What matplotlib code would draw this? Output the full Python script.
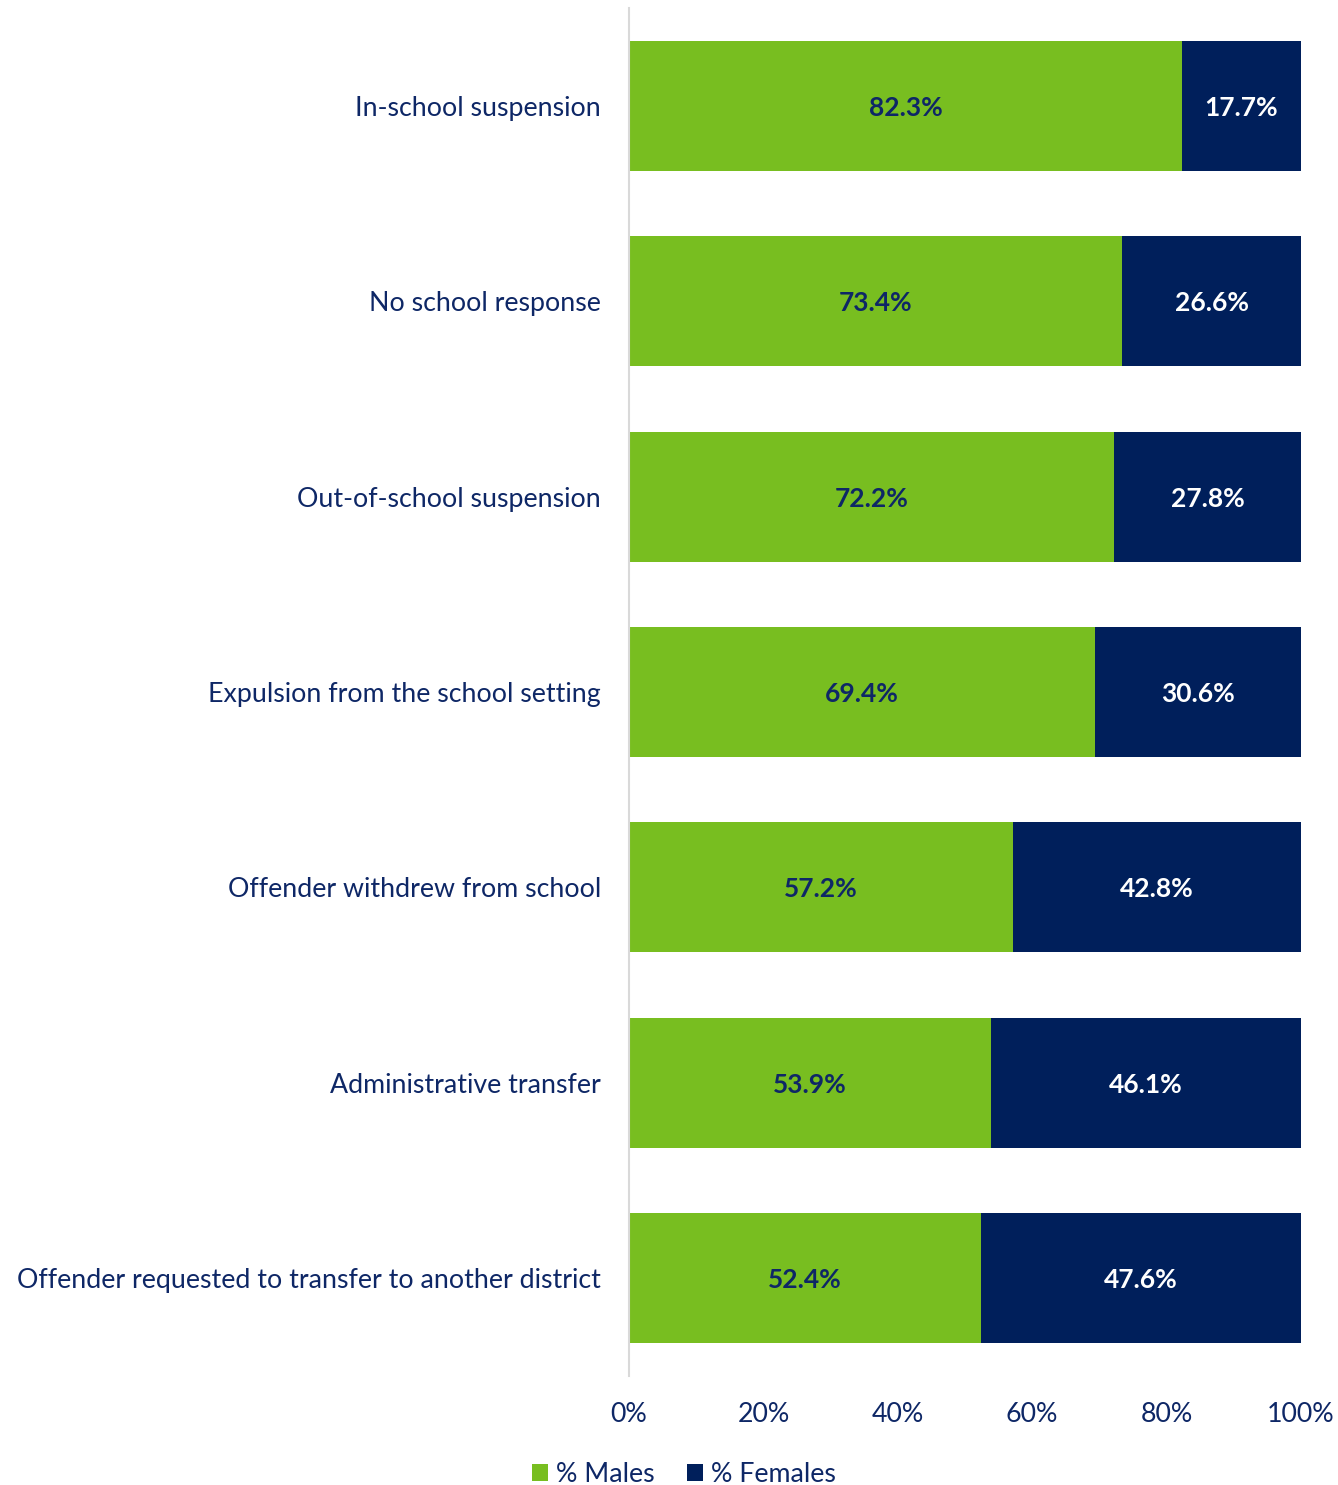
import matplotlib.pyplot as plt
import numpy as np

plt.rcParams['font.family'] = ['Lato', 'DejaVu Sans']

categories = [
    "In-school suspension",
    "No school response",
    "Out-of-school suspension",
    "Expulsion from the school setting",
    "Offender withdrew from school",
    "Administrative transfer",
    "Offender requested to transfer to another district",
]
males = [82.3, 73.4, 72.2, 69.4, 57.2, 53.9, 52.4]
females = [17.7, 26.6, 27.8, 30.6, 42.8, 46.1, 47.6]
xticks = [0, 20, 40, 60, 80, 100]

green = "#78BE20"
navy = "#001F5B"
text_col = "#0E2766"

fig = plt.figure(figsize=(13.38, 14.85), dpi=100)
ax = fig.add_axes([0.4701, 0.0736, 0.5022, 0.9208])

y = np.arange(len(categories))
h = 0.665
bm = ax.barh(y, males, height=h, color=green, label="% Males")
bf = ax.barh(y, females, left=males, height=h, color=navy, label="% Females")

# value labels centred in each segment
for i in range(len(categories)):
    ax.text(males[i] / 2, y[i], f"{males[i]:.1f}%", ha="center",
            va="center_baseline", fontsize=19, fontweight="bold", color=text_col)
    ax.text(males[i] + females[i] / 2, y[i], f"{females[i]:.1f}%", ha="center",
            va="center_baseline", fontsize=19, fontweight="bold", color="white")

ax.set_ylim(len(categories) - 0.5, -0.5)
ax.set_xlim(0, 100)
ax.set_yticks(y)
ax.set_yticklabels(categories, fontsize=19.3, color=text_col)
ax.set_xticks(xticks)
ax.set_xticklabels([f"{t}%" for t in xticks], fontsize=19.3, color=text_col)
ax.tick_params(axis="y", length=0, pad=20)
ax.tick_params(axis="x", length=0, pad=19)

for s in ["top", "right", "bottom"]:
    ax.spines[s].set_visible(False)
ax.spines["left"].set_color("#D9D9D9")
ax.spines["left"].set_linewidth(1.5)

fig.legend(handles=[bm, bf], loc="center", bbox_to_anchor=(0.511, 0.0068),
           ncol=2, frameon=False, fontsize=19.3, labelcolor=text_col,
           handlelength=0.6, handleheight=0.6, handletextpad=0.3,
           columnspacing=1.2)

fig.savefig("out.png", dpi=100)
